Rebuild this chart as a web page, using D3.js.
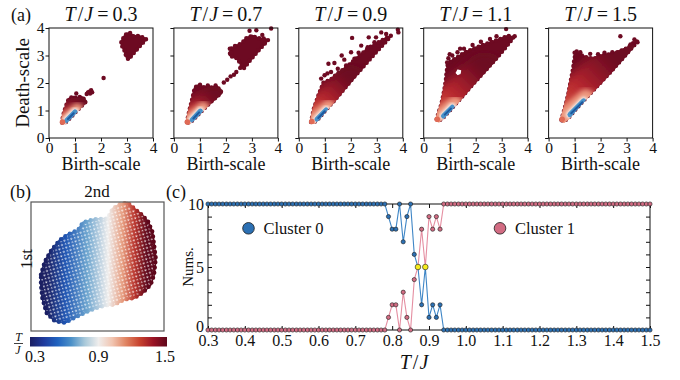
<!DOCTYPE html>
<html><head><meta charset="utf-8">
<script src="https://cdn.jsdelivr.net/npm/d3@7"></script>
<style>
body{margin:0;background:#fff}
text{font-family:"Liberation Serif","Times New Roman",serif;fill:#111}
</style>
</head><body>
<svg id="c" width="680" height="380"></svg>
<script>
// ================= DATA =================
// Panel (a): persistence diagrams, one per temperature
const aTemps = ["0.3","0.7","0.9","1.1","1.5"];
const aTicks = [0,1,2,3,4];
// dense regions (outlines, birth/death coords)
const aHulls = [
  [ [[0.50,0.56],[0.53,0.75],[0.58,0.95],[0.63,1.10],[0.70,1.28],[0.76,1.42],[0.85,1.47],[0.95,1.50],[1.05,1.45],[1.12,1.46],[1.20,1.50],[1.28,1.48],[1.36,1.40],[1.42,1.32],[1.20,1.12],[1.00,0.92],[0.80,0.72],[0.62,0.55]],
    [[2.78,3.48],[2.88,3.68],[3.00,3.80],[3.12,3.82],[3.25,3.70],[3.40,3.72],[3.55,3.68],[3.74,3.60],[3.55,3.40],[3.40,3.24],[3.22,3.05],[3.06,2.86],[2.97,2.95],[2.92,3.15],[2.82,3.32]] ],
  [ [[0.50,0.58],[0.56,0.85],[0.62,1.10],[0.70,1.40],[0.76,1.65],[0.80,1.82],[0.90,1.90],[1.00,1.94],[1.10,1.86],[1.20,1.84],[1.32,1.92],[1.42,1.84],[1.52,1.85],[1.62,1.92],[1.72,1.80],[1.82,1.72],[1.80,1.62],[1.55,1.42],[1.30,1.20],[1.00,0.92],[0.78,0.70],[0.60,0.55]],
    [[2.20,3.24],[2.14,3.02],[2.25,2.95],[2.42,2.90],[2.55,2.72],[2.68,2.52],[2.95,2.85],[3.25,3.18],[3.62,3.56],[3.45,3.62],[3.23,3.63],[3.01,3.72],[2.78,3.63],[2.62,3.45],[2.45,3.38],[2.30,3.30]] ],
  [ [[0.47,0.58],[0.53,0.85],[0.58,1.07],[0.68,1.35],[0.78,1.62],[0.88,1.85],[0.95,2.02],[1.20,2.10],[1.50,2.35],[1.80,2.55],[2.10,2.80],[2.40,3.05],[2.70,3.28],[3.00,3.45],[3.30,3.60],[3.55,3.72],[3.30,3.45],[3.00,3.15],[2.60,2.72],[2.20,2.30],[1.80,1.85],[1.40,1.40],[1.00,0.98],[0.75,0.70],[0.58,0.56]] ],
  [ [[0.50,0.68],[0.58,0.95],[0.67,1.20],[0.74,1.50],[0.80,1.80],[0.85,2.10],[0.88,2.40],[0.92,2.65],[1.05,2.80],[1.20,2.88],[1.40,3.00],[1.60,3.12],[1.85,3.22],[2.10,3.32],[2.40,3.42],[2.70,3.52],[3.00,3.62],[3.25,3.72],[3.45,3.65],[3.20,3.35],[2.80,2.90],[2.30,2.38],[1.80,1.86],[1.40,1.42],[1.00,1.00],[0.75,0.74],[0.58,0.62]] ],
  [ [[0.49,0.66],[0.58,0.95],[0.68,1.30],[0.76,1.62],[0.82,1.92],[0.88,2.22],[0.94,2.52],[0.98,2.80],[1.02,3.02],[1.12,3.05],[1.25,3.02],[1.40,2.95],[1.58,2.90],[1.78,2.90],[1.98,2.98],[2.20,3.02],[2.45,3.06],[2.75,3.16],[3.05,3.28],[3.25,3.45],[3.40,3.52],[3.30,3.38],[2.90,2.95],[2.40,2.42],[1.90,1.92],[1.40,1.42],[1.00,1.00],[0.75,0.72],[0.58,0.60]] ]
];
const aHoles = [ [], [], [], [ [[1.22,2.36],[1.30,2.50],[1.45,2.46],[1.42,2.32],[1.30,2.28]] ], [] ];
// isolated points
const aDots = [
  [[1.05,1.62],[2.10,2.18],[1.55,1.68],[1.62,1.74],[1.66,1.66],[1.58,1.62],[1.50,1.66],[1.45,1.60]],
  [[1.92,2.02],[2.05,2.12],[2.18,2.24],[2.31,2.30],[2.40,2.40],[2.55,2.55],[2.91,3.90],[3.17,3.92],[3.74,3.98],[3.40,3.75],[2.15,3.25],[2.20,3.10],[2.35,3.35]],
  [[1.14,2.70],[1.37,2.73],[1.65,3.00],[2.05,3.64],[2.40,3.36],[2.69,3.66],[2.97,3.66],[3.17,3.84],[3.36,3.78],[3.81,3.94],[3.83,3.84],[0.86,2.16],[0.99,2.28],[1.24,2.40],[1.50,2.52],[1.82,2.64],[2.14,2.88],[2.01,3.12],[2.65,3.30],[2.91,3.48],[1.75,2.85],[2.30,3.10],[1.10,2.35]],
  [[3.17,3.96],[3.50,3.70],[0.95,2.90],[1.10,3.00],[1.30,3.12],[1.55,3.25],[1.88,3.38],[2.20,3.50],[2.55,3.60],[2.80,3.70],[0.90,2.75],[1.00,3.05],[1.40,3.25]],
  [[2.76,3.70],[3.30,3.58],[3.42,3.48],[1.08,3.15],[1.22,3.12],[1.60,3.06],[1.90,3.05],[2.15,3.10],[2.45,3.12],[1.00,3.10],[3.15,3.40]]
];
// density ridge along the diagonal [x0,y0,x1,y1] and dense core
const aBand = [[0.52,0.58,1.25,1.15],[0.52,0.58,1.55,1.42],[0.50,0.60,2.00,2.00],[0.52,0.68,2.35,2.35],[0.52,0.68,2.65,2.65]];
const aCore = [[0.68,0.64,1.00,0.95],[0.70,0.66,1.02,0.98],[0.70,0.68,1.05,1.02],[0.76,0.80,1.10,1.12],[0.82,0.85,1.35,1.35]];

// Panel (b): 2D embedding cloud outline and colour position of T along it
const bHull = [[0.75,4.36],[1.04,5.38],[1.54,6.28],[2.16,7.05],[2.79,7.49],[3.53,7.82],[3.91,8.41],[4.78,8.67],[5.77,8.72],[6.14,9.49],[6.77,9.87],[7.26,9.95],[7.76,9.49],[8.38,8.97],[8.81,8.46],[9.13,7.69],[9.38,5.64],[9.25,4.36],[9.00,3.59],[8.38,2.95],[7.76,2.56],[7.01,2.44],[6.27,2.05],[5.65,2.00],[4.90,1.79],[4.03,1.41],[3.28,1.03],[2.54,0.64],[1.79,0.77],[1.17,1.41],[0.85,2.56],[0.75,3.59]];
const bTemps = [0.3,0.5,0.7,0.9,1.1,1.3,1.5];
const bPos   = [1.2,2.6,4.2,5.8,6.9,7.8,8.7];
const cbTicks = ["0.3","0.9","1.5"];
const cmapColors = ["#1b1f62","#1f3a9c","#1f62bf","#4b90c8","#a9c9da","#efedec","#f1c5b1","#e08462","#c7432f","#9a1325","#5e071b"];

// Panel (c): cluster counts vs T/J
const tGrid = [0.30,0.31,0.32,0.33,0.34,0.35,0.36,0.37,0.38,0.39,0.40,0.41,0.42,0.43,0.44,0.45,0.46,0.47,0.48,0.49,0.50,0.51,0.52,0.53,0.54,0.55,0.56,0.57,0.58,0.59,0.60,0.61,0.62,0.63,0.64,0.65,0.66,0.67,0.68,0.69,0.70,0.71,0.72,0.73,0.74,0.75,0.76,0.77,0.78,0.79,0.80,0.81,0.82,0.83,0.84,0.85,0.86,0.87,0.88,0.89,0.90,0.91,0.92,0.93,0.94,0.95,0.96,0.97,0.98,0.99,1.00,1.01,1.02,1.03,1.04,1.05,1.06,1.07,1.08,1.09,1.10,1.11,1.12,1.13,1.14,1.15,1.16,1.17,1.18,1.19,1.20,1.21,1.22,1.23,1.24,1.25,1.26,1.27,1.28,1.29,1.30,1.31,1.32,1.33,1.34,1.35,1.36,1.37,1.38,1.39,1.40,1.41,1.42,1.43,1.44,1.45,1.46,1.47,1.48,1.49,1.50];
const cluster0 = [10,10,10,10,10,10,10,10,10,10,10,10,10,10,10,10,10,10,10,10,10,10,10,10,10,10,10,10,10,10,10,10,10,10,10,10,10,10,10,10,10,10,10,10,10,10,10,10,10,
  9,8,8,10,7,9,10,6,5,2,5,1,2,1,2,
  0,0,0,0,0,0,0,0,0,0,0,0,0,0,0,0,0,0,0,0,0,0,0,0,0,0,0,0,0,0,0,0,0,0,0,0,0,0,0,0,0,0,0,0,0,0,0,0,0,0,0,0,0,0,0,0,0];
const cluster1 = [0,0,0,0,0,0,0,0,0,0,0,0,0,0,0,0,0,0,0,0,0,0,0,0,0,0,0,0,0,0,0,0,0,0,0,0,0,0,0,0,0,0,0,0,0,0,0,0,0,
  1,2,2,0,3,1,0,4,5,8,5,9,8,9,8,
  10,10,10,10,10,10,10,10,10,10,10,10,10,10,10,10,10,10,10,10,10,10,10,10,10,10,10,10,10,10,10,10,10,10,10,10,10,10,10,10,10,10,10,10,10,10,10,10,10,10,10,10,10,10,10,10,10];
const cTicksX = [0.3,0.4,0.5,0.6,0.7,0.8,0.9,1.0,1.1,1.2,1.3,1.4,1.5];
const cTicksY = [0,5,10];
const cMinorY = [0,1,2,3,4,5,6,7,8,9,10];
const legendNames = ["Cluster 0","Cluster 1"];

// ================= DRAWING =================
const svg = d3.select("#c");
const defs = svg.append("defs");
const DARK = "#6d0a22";
const blur = (id,s)=>defs.append("filter").attr("id",id).attr("x","-50%").attr("y","-50%").attr("width","200%").attr("height","200%")
  .append("feGaussianBlur").attr("stdDeviation",s);
blur("bl5",5); blur("bl3",2.6); blur("bl15",1.4); blur("bl06",0.6);

function styleAxis(g,size){
  g.attr("font-family",null).attr("font-size",size);
  g.selectAll("text").attr("fill","#111");
  g.select(".domain").remove();
  g.selectAll(".tick line").attr("stroke","#111");
}

// ---------- panel (a) ----------
svg.append("text").attr("x",11).attr("y",21).attr("font-size",18).text("(a)");
svg.append("text").attr("transform","translate(28.5,83) rotate(-90)").attr("text-anchor","middle").attr("font-size",19).text("Death-scale");
const bandW = [22,28,36,42,52];
aTemps.forEach((t,i)=>{
  const x0 = 49 + i*124.9;
  const xs = d3.scaleLinear().domain([0,4]).range([x0,x0+104]);
  const ys = d3.scaleLinear().domain([0,4]).range([138,28]);
  const line = d3.line().x(d=>xs(d[0])).y(d=>ys(d[1])).curve(d3.curveLinearClosed);
  const g = svg.append("g");
  const m = defs.append("mask").attr("id","mA"+i).attr("maskUnits","userSpaceOnUse").attr("x",0).attr("y",0).attr("width",680).attr("height",380);
  aHulls[i].forEach(p=>m.append("path").attr("d",line(p)).attr("fill","#fff").attr("stroke","#fff").attr("stroke-width",3).attr("stroke-linejoin","round"));
  aHoles[i].forEach(p=>m.append("path").attr("d",line(p)).attr("fill","#000"));
  g.selectAll("path.h").data(aHulls[i]).join("path").attr("class","h").attr("d",line)
    .attr("fill",DARK).attr("stroke",DARK).attr("stroke-width",2).attr("stroke-linejoin","round");
  g.selectAll("path.rim").data(aHulls[i]).join("path").attr("class","rim").attr("d",line)
    .attr("fill","none").attr("stroke",DARK).attr("stroke-width",4.4).attr("stroke-dasharray","0 4.6").attr("stroke-linecap","round");
  g.selectAll("path.ho").data(aHoles[i]).join("path").attr("class","ho").attr("d",line).attr("fill","#fff");
  const b = aBand[i], c = aCore[i];
  const gr = defs.append("linearGradient").attr("id","gA"+i).attr("gradientUnits","userSpaceOnUse")
    .attr("x1",xs(b[0])).attr("y1",ys(b[1])).attr("x2",xs(b[2])).attr("y2",ys(b[3]));
  [[0,"#d4553f"],[0.45,"#b8272f"],[1,DARK]].forEach(s=>gr.append("stop").attr("offset",s[0]).attr("stop-color",s[1]));
  const cg = g.append("g").attr("mask",`url(#mA${i})`);
  cg.append("line").attr("x1",xs(b[0])).attr("y1",ys(b[1])).attr("x2",xs(b[2])).attr("y2",ys(b[3]))
    .attr("stroke",`url(#gA${i})`).attr("stroke-width",bandW[i]).attr("stroke-linecap","round").attr("filter","url(#bl5)");
  cg.append("line").attr("x1",xs(b[0])).attr("y1",ys(b[1])).attr("x2",xs(c[2]+0.1)).attr("y2",ys(c[3]+0.1))
    .attr("stroke","#ee9a80").attr("stroke-width",12+i*1.5).attr("stroke-linecap","round").attr("filter","url(#bl3)");
  cg.append("line").attr("x1",xs(c[0])).attr("y1",ys(c[1])).attr("x2",xs(c[2])).attr("y2",ys(c[3]))
    .attr("stroke","#f4ece8").attr("stroke-width",8).attr("stroke-linecap","round").attr("filter","url(#bl15)");
  cg.append("line").attr("x1",xs(c[0])).attr("y1",ys(c[1])).attr("x2",xs(c[2])).attr("y2",ys(c[3]))
    .attr("stroke","#4a92c9").attr("stroke-width",5).attr("stroke-linecap","round").attr("filter","url(#bl06)");
  cg.append("line").attr("x1",xs(c[0]+0.05)).attr("y1",ys(c[1]+0.05)).attr("x2",xs(c[2]-0.05)).attr("y2",ys(c[3]-0.05))
    .attr("stroke","#1d5aa0").attr("stroke-width",2).attr("stroke-linecap","round");
  g.append("circle").attr("cx",xs(b[0])).attr("cy",ys(b[1])).attr("r",2.8).attr("fill","#e06a55");
  g.selectAll("circle.o").data(aDots[i]).join("circle").attr("class","o")
    .attr("cx",d=>xs(d[0])).attr("cy",d=>ys(d[1])).attr("r",2.2).attr("fill",DARK);
  g.append("rect").attr("x",xs(0)).attr("y",ys(4)).attr("width",xs(4)-xs(0)).attr("height",ys(0)-ys(4))
    .attr("fill","none").attr("stroke","#111").attr("stroke-width",1);
  const ax = g.append("g").attr("transform","translate(0,138)").call(d3.axisBottom(xs).tickValues(aTicks).tickSize(3.5).tickPadding(0).tickFormat(d3.format("d")));
  styleAxis(ax,15.5);
  const ay = g.append("g").attr("transform",`translate(${x0},0)`).call(d3.axisLeft(ys).tickValues(aTicks).tickSize(3.5).tickPadding(1).tickFormat(i===0?d3.format("d"):""));
  styleAxis(ay,15.5);
  const tt = svg.append("text").attr("x",x0+52).attr("y",21).attr("text-anchor","middle").attr("font-size",20);
  tt.append("tspan").attr("font-style","italic").text("T");
  tt.append("tspan").attr("dx",2).text("/");
  tt.append("tspan").attr("dx",1).attr("font-style","italic").text("J");
  tt.append("tspan").attr("dx",4).text("=");
  tt.append("tspan").attr("dx",4).text(t);
  svg.append("text").attr("x",x0+52).attr("y",170).attr("text-anchor","middle").attr("font-size",18).text("Birth-scale");
});

// ---------- colormap ----------
const cmap = d3.scaleLinear().domain(cmapColors.map((_,k)=>0.3+k*0.12)).range(cmapColors).interpolate(d3.interpolateRgb);

// ---------- panel (b) ----------
{
  const xs = d3.scaleLinear().domain([0,10]).range([31,164]);
  const ys = d3.scaleLinear().domain([0,10]).range([331,202]);
  const line = d3.line().x(d=>xs(d[0])).y(d=>ys(d[1])).curve(d3.curveLinearClosed);
  const gr = defs.append("linearGradient").attr("id","bGrad").attr("gradientUnits","userSpaceOnUse")
    .attr("x1",xs(bPos[0])).attr("y1",0).attr("x2",xs(bPos[bPos.length-1])).attr("y2",0);
  const span = xs(bPos[bPos.length-1]) - xs(bPos[0]);
  bTemps.forEach((t,k)=>gr.append("stop").attr("offset",(xs(bPos[k])-xs(bPos[0]))/span).attr("stop-color",cmap(t)));
  const pat = defs.append("pattern").attr("id","speck").attr("patternUnits","userSpaceOnUse").attr("width",5).attr("height",5)
    .attr("patternTransform","rotate(30)");
  pat.append("circle").attr("cx",1.2).attr("cy",1.2).attr("r",1.0).attr("fill","#fff");
  pat.append("circle").attr("cx",3.7).attr("cy",3.6).attr("r",0.8).attr("fill","#fff");
  const cp = defs.append("clipPath").attr("id","bClip");
  cp.append("path").attr("d",line(bHull));
  svg.append("path").attr("d",line(bHull)).attr("fill","url(#bGrad)").attr("stroke","url(#bGrad)").attr("stroke-width",2).attr("stroke-linejoin","round");
  svg.append("rect").attr("x",31).attr("y",202).attr("width",133).attr("height",129).attr("fill","url(#speck)")
    .attr("opacity",0.8).attr("clip-path","url(#bClip)");
  svg.append("path").attr("d",line(bHull)).attr("fill","none").attr("stroke","url(#bGrad)")
    .attr("stroke-width",4.4).attr("stroke-dasharray","0 5.2").attr("stroke-linecap","round");
  svg.append("rect").attr("x",31).attr("y",202).attr("width",133).attr("height",129)
    .attr("fill","none").attr("stroke","#555").attr("stroke-width",1.2);
  svg.append("text").attr("x",10).attr("y",198).attr("font-size",18).text("(b)");
  svg.append("text").attr("x",97).attr("y",197).attr("text-anchor","middle").attr("font-size",17).text("2nd");
  svg.append("text").attr("transform","translate(31.5,259) rotate(-90)").attr("text-anchor","middle").attr("font-size",17).text("1st");
  const cb = d3.scaleLinear().domain([0.3,1.5]).range([30,167]);
  const cg = defs.append("linearGradient").attr("id","cbGrad");
  cmapColors.forEach((c,k)=>cg.append("stop").attr("offset",k/(cmapColors.length-1)).attr("stop-color",c));
  svg.append("rect").attr("x",cb(0.3)).attr("y",337).attr("width",cb(1.5)-cb(0.3)).attr("height",9.5).attr("fill","url(#cbGrad)");
  const lblX = [35,98.5,165];
  cbTicks.forEach((t,k)=>svg.append("text").attr("x",lblX[k]).attr("y",362).attr("text-anchor","middle").attr("font-size",16).text(t));
  svg.append("text").attr("x",18.5).attr("y",341).attr("text-anchor","middle").attr("font-size",12).attr("font-style","italic").text("T");
  svg.append("line").attr("x1",14).attr("x2",23).attr("y1",343.5).attr("y2",343.5).attr("stroke","#111").attr("stroke-width",0.8);
  svg.append("text").attr("x",18).attr("y",354).attr("text-anchor","middle").attr("font-size",12).attr("font-style","italic").text("J");
}

// ---------- panel (c) ----------
{
  const xs = d3.scaleLinear().domain([0.3,1.5]).range([208,650]);
  const ys = d3.scaleLinear().domain([0,10]).range([330,204]);
  const g = svg.append("g");
  g.append("rect").attr("x",208).attr("y",204).attr("width",442).attr("height",126).attr("fill","none").attr("stroke","#111").attr("stroke-width",1);
  const axB = g.append("g").attr("transform","translate(0,330)").call(d3.axisBottom(xs).tickValues(cTicksX).tickSize(-4).tickPadding(4.5).tickFormat(d3.format(".1f")));
  styleAxis(axB,16);
  const axT = g.append("g").attr("transform","translate(0,204)").call(d3.axisTop(xs).tickValues(cTicksX).tickSize(-4).tickFormat(""));
  styleAxis(axT,16);
  const axL = g.append("g").attr("transform","translate(208,0)").call(d3.axisLeft(ys).tickValues(cMinorY).tickSize(-4).tickPadding(4).tickFormat(d=>cTicksY.includes(d)?d:""));
  styleAxis(axL,16);
  axL.selectAll(".tick text").filter(d=>d===0).attr("dy","0.1em");
  const axR = g.append("g").attr("transform","translate(650,0)").call(d3.axisRight(ys).tickValues(cMinorY).tickSize(-4).tickFormat(""));
  styleAxis(axR,16);
  const data = tGrid.map((t,k)=>({t,c0:cluster0[k],c1:cluster1[k]}));
  const l0 = d3.line().x(d=>xs(d.t)).y(d=>ys(d.c0));
  const l1 = d3.line().x(d=>xs(d.t)).y(d=>ys(d.c1));
  g.append("path").attr("d",l0(data)).attr("fill","none").attr("stroke","#3f86c6").attr("stroke-width",1.1);
  g.append("path").attr("d",l1(data)).attr("fill","none").attr("stroke","#e58fa2").attr("stroke-width",1.1);
  const same = data.filter(d=>d.c0===d.c1);
  const diff = data.filter(d=>d.c0!==d.c1);
  g.selectAll("circle.c0").data(diff).join("circle").attr("class","c0").attr("cx",d=>xs(d.t)).attr("cy",d=>ys(d.c0))
    .attr("r",2.1).attr("fill","#2c70b3").attr("stroke","#1a1a1a").attr("stroke-width",0.6);
  g.selectAll("circle.c1").data(diff).join("circle").attr("class","c1").attr("cx",d=>xs(d.t)).attr("cy",d=>ys(d.c1))
    .attr("r",2.1).attr("fill","#d26c83").attr("stroke","#1a1a1a").attr("stroke-width",0.6);
  g.selectAll("circle.y").data(same).join("circle").attr("class","y").attr("cx",d=>xs(d.t)).attr("cy",d=>ys(d.c0))
    .attr("r",2.8).attr("fill","#f7ec1e").attr("stroke","#1a1a1a").attr("stroke-width",0.6);
  const lg = [[248.5,"#2c70b3"],[500,"#d26c83"]];
  legendNames.forEach((n,k)=>{
    g.append("circle").attr("cx",lg[k][0]).attr("cy",228.3).attr("r",5.8).attr("fill",lg[k][1]).attr("stroke","#1a1a1a").attr("stroke-width",0.8);
    g.append("text").attr("x",lg[k][0]+15).attr("y",233.5).attr("font-size",16.5).text(n);
  });
  svg.append("text").attr("x",166).attr("y",198).attr("font-size",18).text("(c)");
  svg.append("text").attr("transform","translate(193,267) rotate(-90)").attr("text-anchor","middle").attr("font-size",15).text("Nums.");
  const xl = svg.append("text").attr("x",414).attr("y",369).attr("text-anchor","middle").attr("font-size",20);
  xl.append("tspan").attr("font-style","italic").text("T");
  xl.append("tspan").attr("dx",2).text("/");
  xl.append("tspan").attr("dx",1).attr("font-style","italic").text("J");
}
</script>
</body></html>
